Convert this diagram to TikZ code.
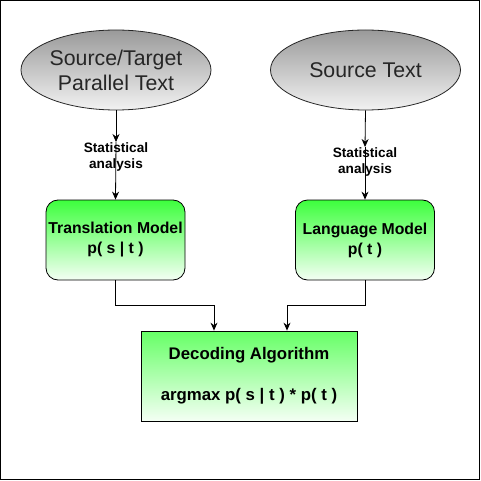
\documentclass[tikz,border=0pt]{standalone}
\usepackage{fontspec}
\setmainfont{Liberation Sans}
\usetikzlibrary{arrows.meta,shapes.geometric}
\definecolor{gtop}{HTML}{3DFF3D}
\definecolor{gtopd}{HTML}{66FF66}
\definecolor{gbot}{HTML}{F4FFF4}
\definecolor{etop}{HTML}{9A9A9A}
\definecolor{ebot}{HTML}{F2F2F2}
\begin{document}
\begin{tikzpicture}[x=1pt,y=1pt,
  src/.style={ellipse, draw=black!85, line width=0.8pt, minimum width=190pt, minimum height=80pt,
    inner sep=0pt, top color=etop, bottom color=ebot, text=black!85,
    font=\fontsize{21.3}{25}\selectfont, align=center},
  model/.style={rectangle, rounded corners=12pt, draw=black, line width=0.8pt,
    minimum width=139pt, minimum height=80pt, top color=gtop, bottom color=gbot,
    font=\bfseries\fontsize{15.8}{20}\selectfont, align=center, inner sep=0pt},
  decbox/.style={rectangle, draw=black, line width=0.8pt,
    minimum width=216pt, minimum height=90pt, top color=gtopd, bottom color=gbot,
    font=\bfseries\fontsize{16.8}{20}\selectfont, align=center, inner sep=0pt},
  lbl/.style={font=\bfseries\fontsize{13.6}{16}\selectfont, align=center, inner sep=0pt},
  arr/.style={-{Stealth[length=8pt,width=7pt]}, line width=0.8pt, draw=black}
]
\useasboundingbox (0,0) rectangle (481,-481);
\draw[line width=1pt] (0.5,-0.5) rectangle (479.5,-479.5);

\node[src] (e1) at (116,-70) {Source/Target\\Parallel Text};
\node[src] (e2) at (365.5,-70) {Source Text};

\node[lbl, anchor=north] (l1) at (116,-142) {Statistical\\analysis};
\node[lbl, anchor=north] (l2) at (365,-147) {Statistical\\analysis};

\node[model] (tm) at (115.5,-240) {Translation Model\\p( s | t )};
\node[model] (lm) at (365,-240) {Language Model\\p( t )};

\node[decbox] (dec) at (249,-376) {Decoding Algorithm\\[21pt]argmax p( s | t ) * p( t )};

\draw[arr] (e1.south) -- (l1.north);
\draw[arr] (l1.north) -- (tm.north);
\draw[arr] (e2.south) -- (l2.north);
\draw[arr] (l2.north) -- (lm.north);

\coordinate (jl) at (214,-305);
\coordinate (jr) at (287,-305);
\draw[arr] (tm.south) |- (jl) -- (jl |- dec.north);
\draw[arr] (lm.south) |- (jr) -- (jr |- dec.north);
\end{tikzpicture}
\end{document}
